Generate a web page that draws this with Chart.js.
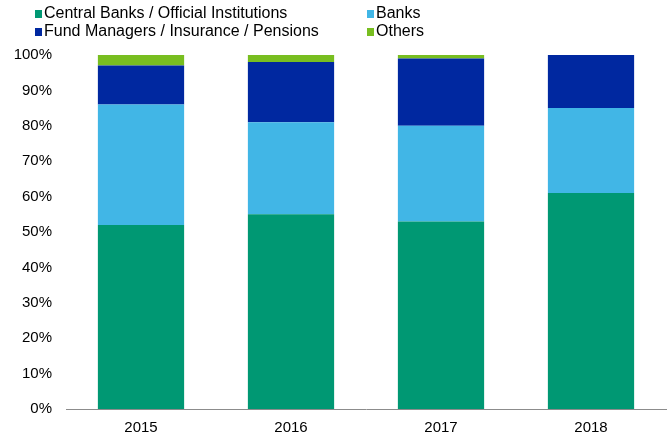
<!DOCTYPE html>
<html>
<head>
<meta charset="utf-8">
<script src="https://cdn.jsdelivr.net/npm/chart.js@4"></script>
<style>
  body { margin: 0; background: #fff; }
  #wrap { position: relative; width: 668px; height: 438px; }
  #legend { position: absolute; left: 35px; top: 4px; width: 630px; font-family: "Liberation Sans", Arial, sans-serif; font-size: 16px; color: #000; }
  .item { position: absolute; white-space: nowrap; line-height: 18px; }
  .box { display: inline-block; width: 7px; height: 8px; margin-right: 2px; vertical-align: 0px; }
</style>
</head>
<body>
<div id="wrap">
  <canvas id="chart" width="668" height="438"></canvas>
  <div id="legend"></div>
</div>
<script>
// data
const years = ['2015', '2016', '2017', '2018'];
const centralBanks = [52, 55, 53, 61];
const banks = [34, 26, 27, 24];
const fundManagers = [11, 17, 19, 15];
const others = [3, 2, 1, 0];
const yTicks = [0, 10, 20, 30, 40, 50, 60, 70, 80, 90, 100];

const series = [
    {label: 'Central Banks / Official Institutions', data: centralBanks, color: '#009873'},
    {label: 'Banks', data: banks, color: '#41B6E6'},
    {label: 'Fund Managers / Insurance / Pensions', data: fundManagers, color: '#0028A0'},
    {label: 'Others', data: others, color: '#78BE20'}
];

// html legend, two columns
const legend = document.getElementById('legend');
series.forEach((s, i) => {
    const d = document.createElement('div');
    d.className = 'item';
    d.style.left = (i % 2 ? 332 : 0) + 'px';
    d.style.top = (i < 2 ? 0 : 18) + 'px';
    d.innerHTML = `<span class="box" style="background:${s.color}"></span>${s.label}`;
    legend.appendChild(d);
});

new Chart(document.getElementById('chart'), {
    type: 'bar',
    data: {
        labels: years,
        datasets: series.map(s => ({
            label: s.label,
            data: s.data,
            backgroundColor: s.color,
            borderWidth: 0,
            barPercentage: 0.575,
            categoryPercentage: 1
        }))
    },
    options: {
        responsive: false,
        animation: false,
        layout: {padding: {top: 55, right: 2, left: 0, bottom: 0}},
        plugins: {legend: {display: false}, tooltip: {enabled: false}},
        scales: {
            x: {
                stacked: true,
                afterFit: axis => { axis.height = 29; },
                grid: {display: false, drawTicks: false},
                border: {display: true, color: '#8c8c8c', width: 1},
                ticks: {color: '#000', font: {family: 'Liberation Sans', size: 15}, padding: 10}
            },
            y: {
                stacked: true,
                min: 0,
                max: 100,
                afterFit: axis => { axis.width = 66; },
                afterBuildTicks: axis => { axis.ticks = yTicks.map(v => ({value: v})); },
                grid: {display: false, drawTicks: false},
                border: {display: false},
                ticks: {
                    color: '#000',
                    font: {family: 'Liberation Sans', size: 15},
                    padding: 14,
                    callback: v => v + '%'
                }
            }
        }
    }
});
</script>
</body>
</html>
